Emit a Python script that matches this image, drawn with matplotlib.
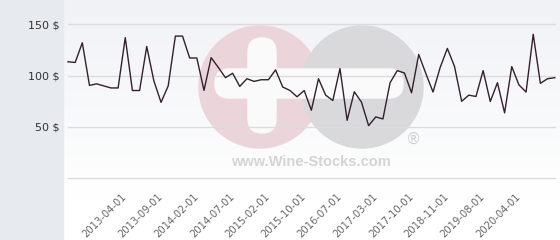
import numpy as np
import matplotlib
matplotlib.use("Agg")
import matplotlib.pyplot as plt
from matplotlib.patches import Circle, FancyBboxPatch, Rectangle

# ---- data ----
prices = [113.5, 112.8, 132.0, 90.5, 92.0, 90.0, 88.0, 88.0, 137.0, 85.5,
          85.5, 128.4, 94.8, 74.0, 90.0, 138.5, 138.5, 117.2, 117.2, 85.6,
          117.5, 108.0, 98.0, 102.3, 89.5, 97.0, 94.4, 96.0, 96.0, 105.6,
          88.9, 85.6, 79.4, 85.5, 66.3, 97.0, 81.0, 75.8, 106.9, 56.5,
          84.3, 74.2, 51.3, 59.8, 57.8, 93.1, 104.9, 102.6, 83.3, 120.6,
          102.0, 84.0, 108.0, 126.5, 109.0, 75.0, 81.0, 79.7, 104.9, 74.8,
          93.1, 63.7, 108.8, 91.0, 84.0, 140.3, 92.5, 97.0, 98.0]
tick_labels = ["2013-04-01", "2013-09-01", "2014-02-01", "2014-07-01",
               "2015-02-01", "2015-10-01", "2016-07-01", "2017-03-01",
               "2017-10-01", "2018-11-01", "2019-08-01", "2020-04-01"]
y_ticks = [0, 50, 100, 150]
y_tick_labels = ["", "50 $", "100 $", "150 $"]

W, H = 560, 240
fig = plt.figure(figsize=(W / 100, H / 100), dpi=100)

# background axes in pixel coordinates
bg = fig.add_axes([0, 0, 1, 1])
bg.set_xlim(0, W)
bg.set_ylim(H, 0)
bg.axis("off")
grad = np.linspace(0, 1, 256).reshape(-1, 1)
top = np.array([0xf1, 0xf2, 0xf6]) / 255
bot = np.array([1.0, 1.0, 1.0])
img = top[None, None, :] * (1 - grad[:, :, None]) + bot[None, None, :] * grad[:, :, None]
bg.imshow(img, extent=[63, W, 200, 0], aspect="auto", zorder=0)
bg.add_patch(Rectangle((63, 200), W - 63, 40, color="white", zorder=0.5))
bg.add_patch(Rectangle((0, 0), 63, H, color="#e7eaee", zorder=1))

# watermark
bg.add_patch(Circle((260, 87), 61, color="#ecd4db", zorder=2))
bg.add_patch(Circle((362, 87), 61, color="#d9d9dc", zorder=2.1))
bg.add_patch(FancyBboxPatch((215, 69), 188, 29, boxstyle="round,pad=0,rounding_size=14",
                            color="#fafafb", zorder=3))
bg.add_patch(FancyBboxPatch((248, 38), 28, 95, boxstyle="round,pad=0,rounding_size=14",
                            color="#fafafb", zorder=3))
bg.text(413, 139, "®", fontsize=11, color="#d0d0d2", ha="center", va="center", zorder=3,
        family="DejaVu Sans")
bg.text(311, 162, "www.Wine-Stocks.com", fontsize=10.5, fontweight="bold", color="#d4d4d4",
        ha="center", va="center", zorder=3, family="Liberation Sans")

# main axes
x0, x1 = 68, 554.7
ytop, ybot = 24.3, 178.3
ax = fig.add_axes([x0 / W, 1 - ybot / H, (x1 - x0) / W, (ybot - ytop) / H])
ax.patch.set_alpha(0)
x = np.arange(len(prices))
ax.plot(x, prices, color="#33202b", lw=1.0, zorder=3, clip_on=False)
ax.set_xlim(0, len(prices) - 1)
ax.set_ylim(0, 150)
for v in y_ticks:
    ax.axhline(v, color="#dcdcdc", lw=1.0, zorder=1, clip_on=False)
for s in ax.spines.values():
    s.set_visible(False)
ax.set_yticks(y_ticks)
ax.set_yticklabels(y_tick_labels, fontsize=8, color="#333333")
ax.tick_params(axis="y", length=0, pad=5.8)
tick_pos = [8 + 5 * i for i in range(len(tick_labels))]
ax.set_xticks(tick_pos)
ax.set_xticklabels(tick_labels, rotation=45, ha="right", va="center",
                   rotation_mode="anchor", fontsize=7.2, color="#666666")
ax.tick_params(axis="x", length=0, pad=12)

fig.savefig("out.png", dpi=100)
